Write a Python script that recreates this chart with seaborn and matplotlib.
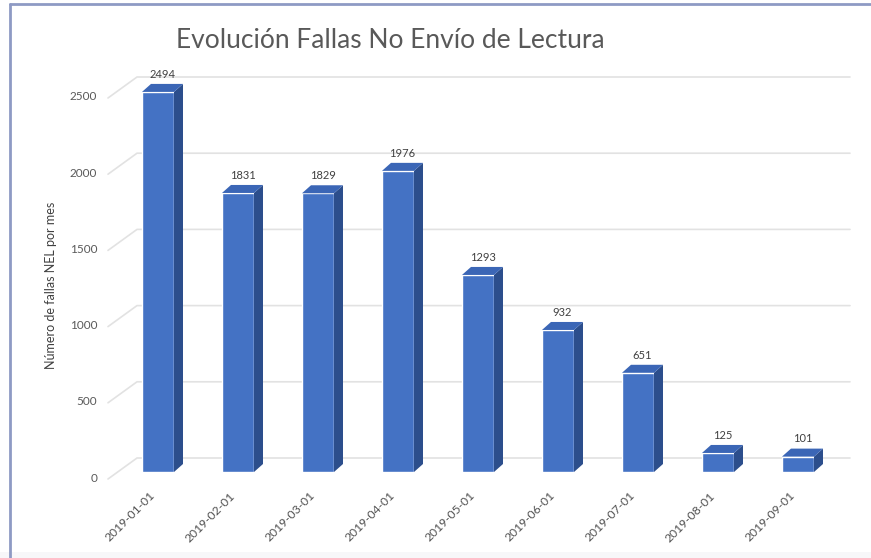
import numpy as np
import pandas as pd
import matplotlib
matplotlib.use("Agg")
import matplotlib.pyplot as plt
import matplotlib.transforms as mtransforms
import seaborn as sns
from matplotlib.patches import Polygon, Rectangle

meses = ["2019-01-01", "2019-02-01", "2019-03-01", "2019-04-01", "2019-05-01",
         "2019-06-01", "2019-07-01", "2019-08-01", "2019-09-01"]
fallas = [2494, 1831, 1829, 1976, 1293, 932, 651, 125, 101]
yticks = [0, 500, 1000, 1500, 2000, 2500]

df = pd.DataFrame({"mes": meses, "fallas": fallas})

sns.set_theme(style="white")
plt.rcParams["font.family"] = ["Lato", "DejaVu Sans"]

fig = plt.figure(figsize=(8.71, 5.58), dpi=100)
ax = fig.add_axes([118 / 871, 86 / 558, 720 / 871, 381 / 558])

front = "#4472C4"
side = "#2C4E8C"
top = "#3B66B6"

sns.barplot(data=df, x="mes", y="fallas", color=front, width=0.4,
            saturation=1, ax=ax, zorder=3)
ax.set_xlim(-0.5, 8.5)
ax.set_ylim(0, 2500)

# depth of bars and of the back wall, in data units
px_x = 1 / 80.0
px_y = 2500 / 381.0
bdx, bdy = 9 * px_x, 8 * px_y

# back wall grid with its floor diagonal
grid_c = "#E2E2E2"
for v in yticks:
    ax.plot([-0.5 - 10 * px_x, -0.5 + 19 * px_x, 8.5 + 12 * px_x],
            [v - 7 * px_y, v + 14 * px_y, v + 14 * px_y],
            color=grid_c, lw=1.2, zorder=1, clip_on=False)

for p in ax.patches:
    x0 = p.get_x()
    w = p.get_width()
    h = p.get_height()
    x1 = x0 + w
    ax.add_patch(Polygon([(x1, 0), (x1 + bdx, bdy), (x1 + bdx, h + bdy), (x1, h)],
                         closed=True, facecolor=side, edgecolor="none",
                         zorder=3, clip_on=False))
    ax.add_patch(Polygon([(x0, h), (x0 + bdx, h + bdy), (x1 + bdx, h + bdy), (x1, h)],
                         closed=True, facecolor=top, edgecolor="none",
                         zorder=3, clip_on=False))
    ax.annotate(f"{int(h)}", (x0 + w / 2 + bdx / 2, h + bdy), xytext=(0, 3),
                textcoords="offset points", ha="center", va="bottom",
                fontsize=8, color="#404040", zorder=5, annotation_clip=False)

for s in ax.spines.values():
    s.set_visible(False)
ax.set_yticks(yticks)
ax.tick_params(axis="y", length=0, pad=15, labelsize=8.5, labelcolor="#595959")
ax.tick_params(axis="x", length=0, pad=13, labelsize=8.7, labelcolor="#505050")
plt.setp(ax.get_xticklabels(), rotation=45, ha="right", rotation_mode="anchor")
shift = mtransforms.ScaledTranslation(0, -0.05, fig.dpi_scale_trans)
for lab in ax.get_yticklabels():
    lab.set_transform(lab.get_transform() + shift)
shift_x = mtransforms.ScaledTranslation(-0.09, 0, fig.dpi_scale_trans)
for lab in ax.get_xticklabels():
    lab.set_transform(lab.get_transform() + shift_x)
ax.set_xlabel("")
ax.set_ylabel("Número de fallas NEL por mes", fontsize=9, color="#404040")
ax.yaxis.set_label_coords(-0.085, 0.49)
ax.grid(False)

fig.text(390 / 871, 1 - 41 / 558, "Evolución Fallas No Envío de Lectura",
         ha="center", va="center", fontsize=19, color="#595959")

# frame of the screenshot
fig.add_artist(Rectangle((0, 0), 1, 6 / 558, transform=fig.transFigure,
                         facecolor="#F7F7F9", edgecolor="none", zorder=0))
fig.add_artist(plt.Line2D([10 / 871, 10 / 871], [0, 1 - 4 / 558],
                          transform=fig.transFigure, color="#8E9AC4", lw=2))
fig.add_artist(plt.Line2D([10 / 871, 1], [1 - 4 / 558, 1 - 4 / 558],
                          transform=fig.transFigure, color="#8E9AC4", lw=2))

fig.savefig("out.png", dpi=100)
